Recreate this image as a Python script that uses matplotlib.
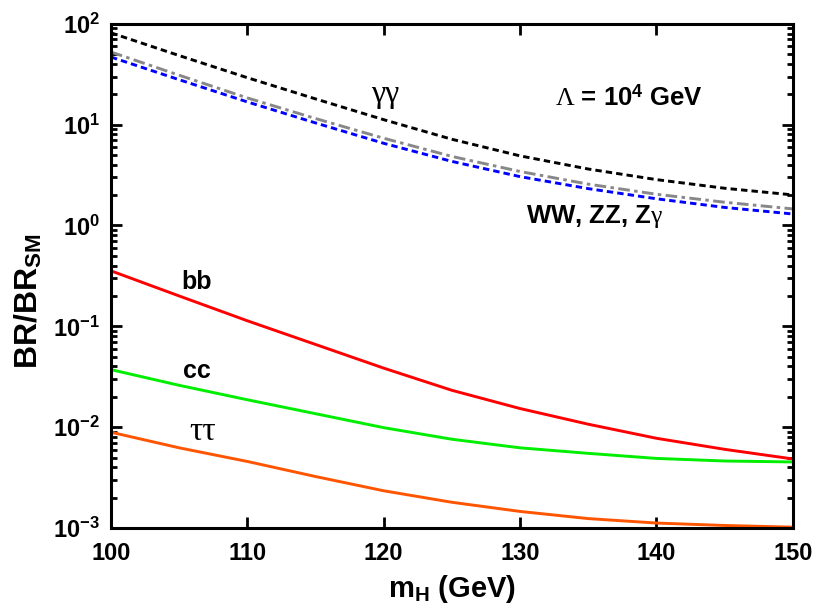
#importing required modules
import matplotlib
matplotlib.use("Agg")
import matplotlib.pyplot as plt
from matplotlib.ticker import FixedLocator, LogLocator, NullFormatter, NullLocator

#font setup
plt.rcParams['font.family'] = 'Liberation Sans'
plt.rcParams['mathtext.fontset'] = 'custom'
plt.rcParams['mathtext.rm'] = 'Liberation Serif'
plt.rcParams['mathtext.it'] = 'Liberation Serif:italic'
plt.rcParams['mathtext.bf'] = 'Liberation Sans:bold'

#data (m_H in GeV, BR/BR_SM)
m_h = [100, 105, 110, 115, 120, 125, 130, 135, 140, 145, 150]
br_gamgam = [81.3, 48.4, 29.2, 18.0, 11.2, 7.16, 4.90, 3.63, 2.85, 2.34, 2.01]
br_vv = [52.5, 30.9, 18.4, 11.5, 7.33, 4.84, 3.43, 2.57, 2.04, 1.70, 1.46]
br_vv2 = [46.8, 27.9, 16.8, 10.4, 6.53, 4.32, 3.05, 2.32, 1.84, 1.51, 1.30]
br_bb = [0.355, 0.200, 0.1135, 0.0661, 0.0385, 0.0232, 0.0153, 0.0107, 0.00776, 0.00603, 0.00484]
br_cc = [0.0372, 0.0260, 0.0187, 0.0136, 0.00989, 0.00759, 0.00624, 0.00550, 0.00490, 0.00462, 0.00452]
br_tautau = [0.00891, 0.00624, 0.00457, 0.00324, 0.00234, 0.00180, 0.00146, 0.00124, 0.00112, 0.00106, 0.00102]

x_ticks = [100, 110, 120, 130, 140, 150]
y_ticks = [1e-3, 1e-2, 1e-1, 1e0, 1e1, 1e2]
y_tick_labels = [r'$\mathbf{10^{-3}}$', r'$\mathbf{10^{-2}}$', r'$\mathbf{10^{-1}}$',
                 r'$\mathbf{10^{0}}$', r'$\mathbf{10^{1}}$', r'$\mathbf{10^{2}}$']

fig = plt.figure(figsize=(8.19, 6.10), dpi=100)
ax = fig.add_axes([0.1355, 0.1344, 0.8325, 0.8266])

lw = 2.1
ax.plot(m_h, br_gamgam, color='black', lw=lw, dashes=(2.2, 1.4))
ax.plot(m_h, br_vv, color='#888888', lw=lw, dashes=(4, 1.5, 1.2, 1.5))
ax.plot(m_h, br_vv2, color='blue', lw=lw, dashes=(2.2, 1.4))
ax.plot(m_h, br_bb, color='#ff0000', lw=lw)
ax.plot(m_h, br_cc, color='#00ee00', lw=lw)
ax.plot(m_h, br_tautau, color='#ff5500', lw=lw)

ax.set_yscale('log')
ax.set_xlim(100, 150)
ax.set_ylim(1e-3, 1e2)

#ticks
ax.xaxis.set_major_locator(FixedLocator(x_ticks))
ax.xaxis.set_minor_locator(NullLocator())
ax.yaxis.set_major_locator(FixedLocator(y_ticks))
ax.set_yticklabels(y_tick_labels)
ax.yaxis.set_minor_locator(LogLocator(base=10, subs=range(2, 10), numticks=20))
ax.yaxis.set_minor_formatter(NullFormatter())
ax.tick_params(which='both', direction='in', top=True, right=True, width=2)
ax.tick_params(which='major', length=8, labelsize=17)
ax.tick_params(axis='x', which='major', pad=10)
ax.tick_params(axis='y', which='major', pad=8)
ax.tick_params(which='minor', length=4)
for lab in ax.get_xticklabels():
    lab.set_fontweight('bold')
for s in ax.spines.values():
    s.set_linewidth(2.2)

ax.set_xlabel(r'm$_\mathbf{H}$ (GeV)', fontsize=21, fontweight='bold', labelpad=6)
ax.set_ylabel(r'BR/BR$_\mathbf{SM}$', fontsize=23, fontweight='bold')
ax.yaxis.set_label_coords(-0.097, 0.45)

#curve labels
ax.text(120.1, 19.8, 'γγ', fontsize=23, family='Liberation Serif', ha='center', va='center')
ax.text(138.0, 18.6, r'$\Lambda$ = 10$^\mathbf{4}$ GeV', fontsize=18.5, fontweight='bold',
        ha='center', va='center')
ax.text(135.5, 1.22, r'WW, ZZ, Z$\mathrm{\gamma}$', fontsize=18.5, fontweight='bold',
        ha='center', va='center')
ax.text(106.3, 0.275, 'bb', fontsize=18, fontweight='bold', ha='center', va='center')
ax.text(106.3, 0.036, 'cc', fontsize=18, fontweight='bold', ha='center', va='center')
ax.text(106.7, 0.0091, 'ττ', fontsize=24, family='Liberation Serif', ha='center', va='center')

fig.savefig('out.png', dpi=100)
